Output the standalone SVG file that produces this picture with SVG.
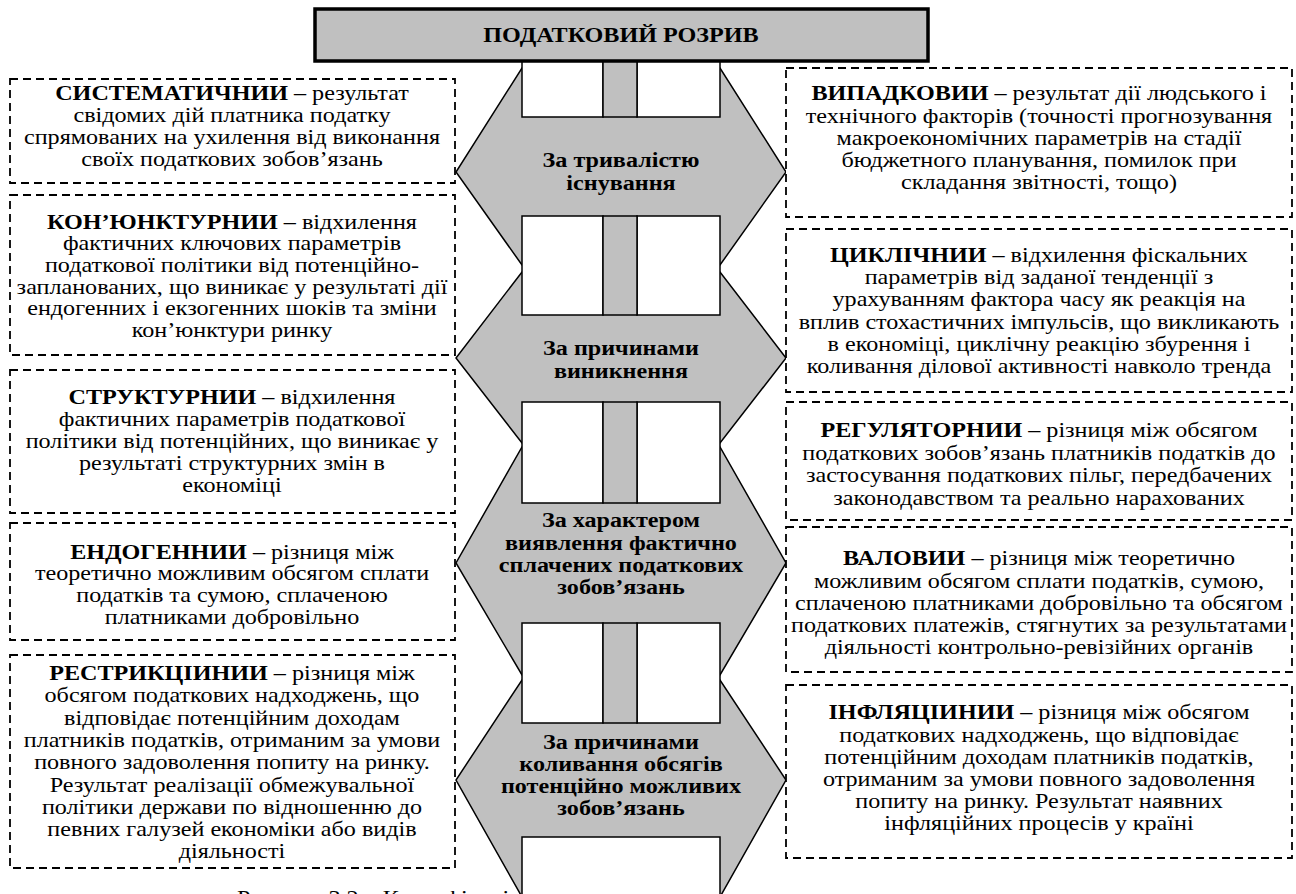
<svg xmlns="http://www.w3.org/2000/svg" width="1296" height="894" viewBox="0 0 1296 894" font-family="Liberation Serif, Times New Roman, serif">
<style>
.bg{fill:#fff}
.box{fill:#fff;stroke:#000;stroke-width:1.8;stroke-dasharray:8 5}
.t{font-family:'Liberation Serif','Times New Roman',serif;font-size:21px;text-anchor:middle;fill:#000}
.b{font-weight:bold}
.hex{fill:#c0c0c0;stroke:#000;stroke-width:1.5}
.wr{fill:#fff;stroke:#000;stroke-width:1.5}
.bar{fill:#c0c0c0;stroke:#000;stroke-width:1.5}
.title{fill:#c0c0c0;stroke:#000;stroke-width:3.5}
</style>
<rect class="bg" x="0" y="0" width="1296" height="894"/>

<g id="hex1">
<polygon class="hex" points="522,68 720,68 786,172 720,265 522,265 456,172"/>
<g transform="matrix(1.15 0 0 1 -93.15 0)">
<text class="t b" x="621" y="167">За тривалістю</text>
<text class="t b" x="621" y="190">існування</text>
</g>
</g>
<g id="hex2">
<polygon class="hex" points="522,272 720,272 786,358 720,443 522,443 456,358"/>
<g transform="matrix(1.15 0 0 1 -93.15 0)">
<text class="t b" x="621" y="355">За причинами</text>
<text class="t b" x="621" y="378">виникнення</text>
</g>
</g>
<g id="hex3">
<polygon class="hex" points="522,447 720,447 786,563 720,675 522,675 456,563"/>
<g transform="matrix(1.15 0 0 1 -93.15 0)">
<text class="t b" x="621" y="527">За характером</text>
<text class="t b" x="621" y="550">виявлення фактично</text>
<text class="t b" x="621" y="572">сплачених податкових</text>
<text class="t b" x="621" y="594">зобов’язань</text>
</g>
</g>
<g id="hex4">
<polygon class="hex" points="522,680 720,680 786,780 720,897 522,897 456,780"/>
<g transform="matrix(1.15 0 0 1 -93.15 0)">
<text class="t b" x="621" y="749">За причинами</text>
<text class="t b" x="621" y="771">коливання обсягів</text>
<text class="t b" x="621" y="793">потенційно можливих</text>
<text class="t b" x="621" y="815">зобов’язань</text>
</g>
</g>

<g id="connectors">
<rect class="wr" x="522" y="61" width="81" height="56"/>
<rect class="wr" x="637" y="61" width="83" height="56"/>
<rect class="bar" x="603" y="61" width="34" height="56"/>
<rect class="wr" x="522" y="216" width="81" height="99"/>
<rect class="wr" x="637" y="216" width="83" height="99"/>
<rect class="bar" x="603" y="216" width="34" height="99"/>
<rect class="wr" x="522" y="402" width="81" height="101"/>
<rect class="wr" x="637" y="402" width="83" height="101"/>
<rect class="bar" x="603" y="402" width="34" height="101"/>
<rect class="wr" x="522" y="623" width="81" height="100"/>
<rect class="wr" x="637" y="623" width="83" height="100"/>
<rect class="bar" x="603" y="623" width="34" height="100"/>
<rect class="wr" x="522" y="837" width="198" height="70"/>
</g>

<g id="title">
<rect class="title" x="315" y="9" width="613" height="52"/>
<g transform="matrix(1.15 0 0 1 -93.15 0)">
<text class="t b" x="621" y="42">ПОДАТКОВИЙ РОЗРИВ</text>
</g>
</g>

<g id="L1">
<rect class="box" x="10" y="79" width="445" height="104"/>
<g transform="matrix(1.15 0 0 1 -34.8 0)">
<text class="t" x="232" y="100"><tspan class="b">СИСТЕМАТИЧНИИ</tspan> – результат</text>
<text class="t" x="232" y="122">свідомих дій платника податку</text>
<text class="t" x="232" y="144">спрямованих на ухилення від виконання</text>
<text class="t" x="232" y="166">своїх податкових зобов’язань</text>
</g>
</g>
<g id="L2">
<rect class="box" x="10" y="195" width="445" height="160"/>
<g transform="matrix(1.15 0 0 1 -34.8 0)">
<text class="t" x="232" y="229"><tspan class="b">КОН’ЮНКТУРНИИ</tspan> – відхилення</text>
<text class="t" x="232" y="250">фактичних ключових параметрів</text>
<text class="t" x="232" y="272">податкової  політики від потенційно-</text>
<text class="t" x="232" y="294">запланованих, що виникає у результаті дії</text>
<text class="t" x="232" y="315">ендогенних і екзогенних шоків  та зміни</text>
<text class="t" x="232" y="337">кон’юнктури ринку</text>
</g>
</g>
<g id="L3">
<rect class="box" x="10" y="370" width="445" height="143"/>
<g transform="matrix(1.15 0 0 1 -34.8 0)">
<text class="t" x="232" y="404"><tspan class="b">СТРУКТУРНИИ</tspan> – відхилення</text>
<text class="t" x="232" y="426">фактичних параметрів податкової</text>
<text class="t" x="232" y="448">політики від потенційних, що виникає у</text>
<text class="t" x="232" y="470">результаті структурних змін в</text>
<text class="t" x="232" y="492">економіці</text>
</g>
</g>
<g id="L4">
<rect class="box" x="10" y="523" width="445" height="117"/>
<g transform="matrix(1.15 0 0 1 -34.8 0)">
<text class="t" x="232" y="559"><tspan class="b">ЕНДОГЕННИИ</tspan> – різниця між</text>
<text class="t" x="232" y="580">теоретично можливим обсягом сплати</text>
<text class="t" x="232" y="602">податків та сумою, сплаченою</text>
<text class="t" x="232" y="624">платниками добровільно</text>
</g>
</g>
<g id="L5">
<rect class="box" x="10" y="655" width="445" height="213"/>
<g transform="matrix(1.15 0 0 1 -34.8 0)">
<text class="t" x="232" y="680"><tspan class="b">РЕСТРИКЦІИНИИ</tspan> – різниця між</text>
<text class="t" x="232" y="702">обсягом податкових надходжень, що</text>
<text class="t" x="232" y="725">відповідає потенційним доходам</text>
<text class="t" x="232" y="747">платників податків, отриманим за умови</text>
<text class="t" x="232" y="769">повного задоволення  попиту на ринку.</text>
<text class="t" x="232" y="792">Результат реалізації обмежувальної</text>
<text class="t" x="232" y="814">політики держави по відношенню до</text>
<text class="t" x="232" y="836">певних галузей економіки або видів</text>
<text class="t" x="232" y="858">діяльності</text>
</g>
</g>

<g id="R1">
<rect class="box" x="786" y="68" width="506" height="149"/>
<g transform="matrix(1.15 0 0 1 -155.85 0)">
<text class="t" x="1039" y="100"><tspan class="b">ВИПАДКОВИИ</tspan> – результат дії людського  і</text>
<text class="t" x="1039" y="123">технічного факторів (точності прогнозування</text>
<text class="t" x="1039" y="145">макроекономічних параметрів на стадії</text>
<text class="t" x="1039" y="167">бюджетного планування, помилок при</text>
<text class="t" x="1039" y="189">складання звітності, тощо)</text>
</g>
</g>
<g id="R2">
<rect class="box" x="786" y="229" width="506" height="163"/>
<g transform="matrix(1.15 0 0 1 -155.85 0)">
<text class="t" x="1039" y="262"><tspan class="b">ЦИКЛІЧНИИ</tspan> – відхилення фіскальних</text>
<text class="t" x="1039" y="284">параметрів від заданої тенденції з</text>
<text class="t" x="1039" y="306">урахуванням фактора часу  як реакція на</text>
<text class="t" x="1039" y="329">вплив стохастичних імпульсів, що викликають</text>
<text class="t" x="1039" y="351">в економіці, циклічну реакцію збурення і</text>
<text class="t" x="1039" y="373">коливання ділової активності навколо тренда</text>
</g>
</g>
<g id="R3">
<rect class="box" x="786" y="402" width="506" height="118"/>
<g transform="matrix(1.15 0 0 1 -155.85 0)">
<text class="t" x="1039" y="437"><tspan class="b">РЕГУЛЯТОРНИИ</tspan> – різниця між обсягом</text>
<text class="t" x="1039" y="460">податкових зобов’язань платників податків до</text>
<text class="t" x="1039" y="482">застосування податкових пільг, передбачених</text>
<text class="t" x="1039" y="505">законодавством та реально нарахованих</text>
</g>
</g>
<g id="R4">
<rect class="box" x="786" y="527" width="506" height="145"/>
<g transform="matrix(1.15 0 0 1 -155.85 0)">
<text class="t" x="1039" y="565"><tspan class="b">ВАЛОВИИ</tspan> – різниця між теоретично</text>
<text class="t" x="1039" y="588">можливим обсягом сплати податків, сумою,</text>
<text class="t" x="1039" y="610">сплаченою платниками добровільно та обсягом</text>
<text class="t" x="1039" y="632">податкових платежів, стягнутих за результатами</text>
<text class="t" x="1039" y="654">діяльності контрольно-ревізійних органів</text>
</g>
</g>
<g id="R5">
<rect class="box" x="786" y="685" width="506" height="173"/>
<g transform="matrix(1.15 0 0 1 -155.85 0)">
<text class="t" x="1039" y="719"><tspan class="b">ІНФЛЯЦІИНИИ</tspan> – різниця між обсягом</text>
<text class="t" x="1039" y="742">податкових надходжень, що відповідає</text>
<text class="t" x="1039" y="764">потенційним доходам платників податків,</text>
<text class="t" x="1039" y="786">отриманим за умови  повного задоволення</text>
<text class="t" x="1039" y="808">попиту на ринку. Результат наявних</text>
<text class="t" x="1039" y="830">інфляційних процесів у країні</text>
</g>
</g>

<g id="caption" transform="matrix(1.15 0 0 1 -35.55 0)">
<text class="t" x="237" y="905" style="text-anchor:start">Рисунок 3.2 – Класифікація податкового розриву</text>
</g>
</svg>
